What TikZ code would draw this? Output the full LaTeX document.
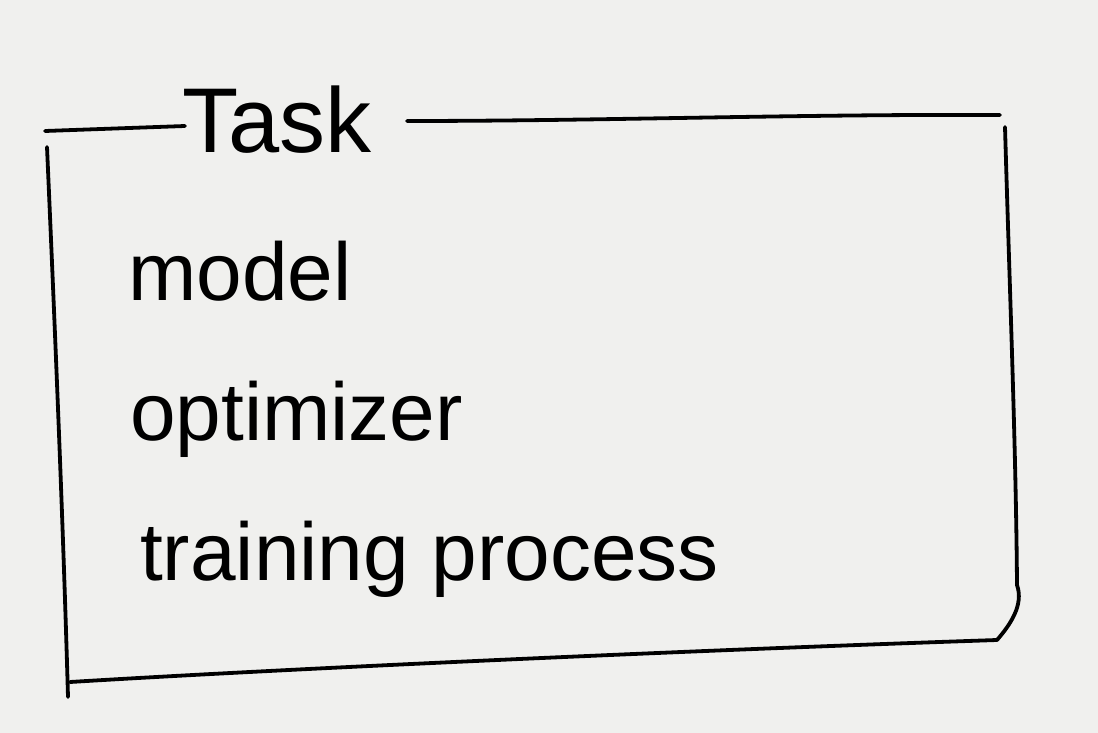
\documentclass[tikz,border=0pt]{standalone}
\usepackage{fontspec}
\setmainfont{Liberation Sans}
\begin{document}
\begin{tikzpicture}[x=1pt,y=-1pt,
  stroke/.style={line width=3.8pt,line cap=round,line join=round,draw=black},
  label/.style={anchor=base west,inner sep=0pt,font=\fontsize{82}{90}\selectfont}]
\fill[color={rgb,255:red,240;green,240;blue,238}] (0,0) rectangle (1098,733);
\useasboundingbox (0,0) rectangle (1098,733);
% frame
\draw[stroke] (45,131) -- (185,126);
\draw[stroke] (407,121) .. controls (600,121) and (800,114) .. (1000,115);
\draw[stroke] (1005,127) .. controls (1010,300) and (1016,450) .. (1017,585)
  .. controls (1024,605) and (1010,625) .. (997,640)
  .. controls (700,650) and (300,668) .. (70,682);
\draw[stroke] (47,147) .. controls (55,330) and (63,520) .. (68,697);
% texts
\node[label,font=\fontsize{92}{100}\selectfont] (task) at (182,153) {Task};
\node[label] (model) at (128,300) {model};
\node[label] (opt) at (130,440) {optimizer};
\node[label] (train) at (140,580) {training process};
\end{tikzpicture}
\end{document}
